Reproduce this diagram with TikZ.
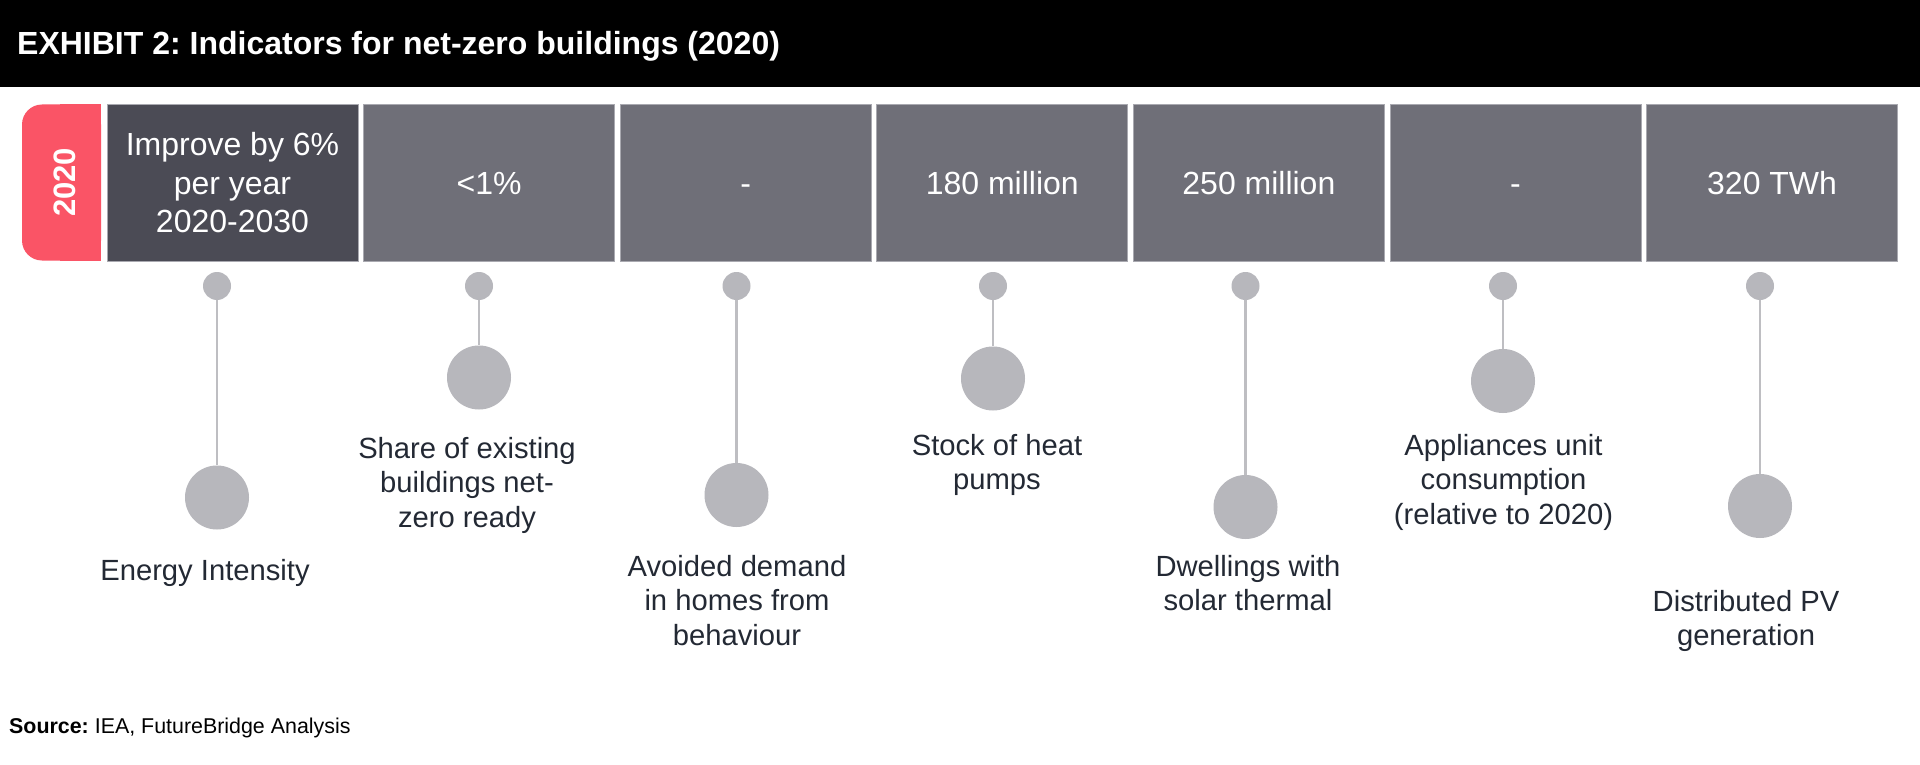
\documentclass[tikz,border=0pt]{standalone}
\usepackage{fontspec}
\setmainfont{Liberation Sans}
\frenchspacing
\definecolor{redc}{HTML}{FA5466}
\definecolor{darkbox}{HTML}{4B4B55}
\definecolor{graybox}{HTML}{6F6F78}
\definecolor{boxedge}{HTML}{A9A9B0}
\definecolor{dotc}{HTML}{B7B7BC}
\definecolor{stemc}{HTML}{BEBEC2}
\definecolor{labelc}{HTML}{232934}
\begin{document}
\begin{tikzpicture}[x=1pt,y=-1pt,
  valbox/.style={rectangle,draw=boxedge,line width=1pt,fill=graybox,minimum width=251pt,minimum height=156pt,inner sep=0pt,text=white,font=\fontsize{32}{38.5}\selectfont,anchor=north west},
  oneline/.style={text height=23.2pt,text depth=0pt},
  smalldot/.style={circle,fill=dotc,minimum size=28pt,inner sep=0pt},
  bigdot/.style={circle,fill=dotc,minimum size=64pt,inner sep=0pt},
  stem/.style={draw=stemc,line width=2.5pt},
  lab/.style={anchor=base,align=center,inner sep=0pt,text=labelc,font=\fontsize{29.2}{34.5}\selectfont}
]
\useasboundingbox (0,0) rectangle (1920,765);
\fill[white] (0,0) rectangle (1920,765);
% header
\fill[black] (0,0) rectangle (1920,87);
\node[anchor=base west,inner sep=0pt,text=white,font=\fontsize{32}{38}\selectfont\bfseries] (title) at (17,55) {EXHIBIT 2: Indicators for net-zero buildings (2020)};
% year tab
\fill[redc,rounded corners=20pt] (22,104.5) rectangle (101,260.5);
\fill[redc] (60,104.5) rectangle (101,260.5);
\node[rotate=90,inner sep=0pt,text=white,font=\fontsize{31}{36}\selectfont\bfseries] (yr) at (65,182.5) {2020};
% value boxes
\node[valbox,fill=darkbox,align=center] (b1) at (106.5,104.5) {Improve by 6\%\\per year\\2020-2030};
\node[valbox,oneline] (b2) at (363.1,104.5) {<1\%};
\node[valbox,oneline] (b3) at (619.7,104.5) {-};
\node[valbox,oneline] (b4) at (876.3,104.5) {180 million};
\node[valbox,oneline] (b5) at (1132.9,104.5) {250 million};
\node[valbox,oneline] (b6) at (1389.5,104.5) {-};
\node[valbox,oneline] (b7) at (1646.1,104.5) {320 TWh};
% dots
\node[smalldot] (s1) at (217,286) {};
\node[smalldot] (s2) at (479,286) {};
\node[smalldot] (s3) at (736.5,286) {};
\node[smalldot] (s4) at (993,286) {};
\node[smalldot] (s5) at (1245.5,286) {};
\node[smalldot] (s6) at (1503,286) {};
\node[smalldot] (s7) at (1760,286) {};
\node[bigdot] (c1) at (217,497.5) {};
\node[bigdot] (c2) at (479,377.5) {};
\node[bigdot] (c3) at (736.5,495) {};
\node[bigdot] (c4) at (993,378.5) {};
\node[bigdot] (c5) at (1245.5,507) {};
\node[bigdot] (c6) at (1503,381) {};
\node[bigdot] (c7) at (1760,506) {};
\foreach \i in {1,...,7} {\draw[stem] (s\i) -- (c\i);}
% labels (anchor = baseline of last line)
\node[lab] (l1) at (205,580) {Energy Intensity};
\node[lab] (l2) at (467,527) {Share of existing\\buildings net-\\zero ready};
\node[lab] (l3) at (737,645) {Avoided demand\\in homes from\\behaviour};
\node[lab] (l4) at (997,489.5) {Stock of heat\\pumps};
\node[lab] (l5) at (1248,610.5) {Dwellings with\\solar thermal};
\node[lab] (l6) at (1503.5,524) {Appliances unit\\consumption\\(relative to 2020)};
\node[lab] (l7) at (1746,645.5) {Distributed PV\\generation};
% source
\node[anchor=base west,inner sep=0pt,text=black,font=\fontsize{21.4}{25}\selectfont] (src) at (9,733) {\textbf{Source:} IEA, FutureBridge Analysis};
\end{tikzpicture}
\end{document}
